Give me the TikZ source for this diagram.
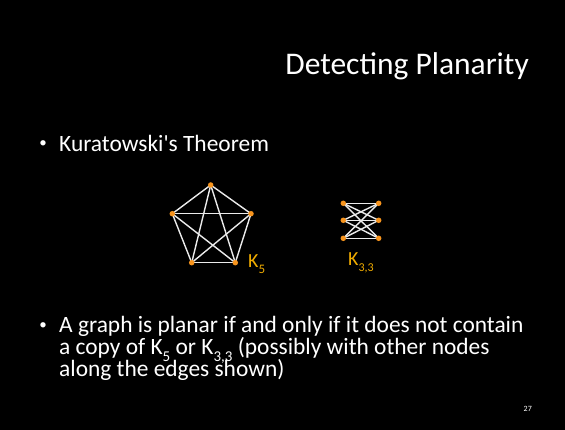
\documentclass[tikz,border=0pt]{standalone}
\usepackage{fontspec}
\setmainfont{Carlito}
\definecolor{dotor}{RGB}{247,148,29}
\definecolor{labor}{RGB}{240,172,0}
\definecolor{edgew}{RGB}{235,235,235}
\newcommand{\subsc}[2]{\raisebox{-0.28em}{\fontsize{#2}{#2}\selectfont #1}}
\begin{document}
\begin{tikzpicture}[x=1pt,y=-1pt,
  vdot/.style={circle,fill=dotor,inner sep=0pt,minimum size=5.5pt},
  gedge/.style={draw=edgew,line width=1.4pt},
  bodytxt/.style={text=white,font=\fontsize{23.4}{26}\selectfont,inner sep=0pt,anchor=base west},
  bulletmark/.style={text=white,font=\fontsize{15}{16}\selectfont,inner sep=0pt,anchor=center},
  klab/.style={text=labor,font=\fontsize{20}{24}\selectfont,inner sep=0pt,anchor=base west}]
\fill[black] (0,0) rectangle (565,430);
\useasboundingbox (0,0) rectangle (565,430);
% title
\node[text=white,font=\fontsize{31.5}{36}\selectfont,inner sep=0pt,anchor=base east] (title) at (529,74.5) {Detecting Planarity};
% bullet 1
\node[bulletmark] (b1) at (43,144.5) {•};
\node[bodytxt] (t1) at (59,151.5) {Kuratowski\textquotesingle s Theorem};
% K5
\coordinate (k1) at (210.7,185);
\coordinate (k2) at (251,213.7);
\coordinate (k3) at (235.3,262.7);
\coordinate (k4) at (191.7,262.7);
\coordinate (k5) at (172.3,213.7);
\foreach \a/\b in {k1/k2,k1/k3,k1/k4,k1/k5,k2/k3,k2/k4,k2/k5,k3/k4,k3/k5,k4/k5}
  \draw[gedge] (\a) -- (\b);
\foreach \v in {k1,k2,k3,k4,k5}
  \node[vdot] (d\v) at (\v) {};
\node[klab] (lk5) at (248,268) {K\subsc{5}{13}};
% K33
\coordinate (a1) at (343.3,203.3);
\coordinate (a2) at (343.3,220.3);
\coordinate (a3) at (343.3,238.3);
\coordinate (c1) at (378.7,203.3);
\coordinate (c2) at (378.7,220.3);
\coordinate (c3) at (378.7,238.3);
\foreach \a in {a1,a2,a3}
  \foreach \b in {c1,c2,c3}
    \draw[gedge] (\a) -- (\b);
\foreach \v in {a1,a2,a3,c1,c2,c3}
  \node[vdot] (d\v) at (\v) {};
\node[klab] (lk33) at (348,266) {K\subsc{3,3}{12}};
% bullet 2
\node[bulletmark] (b2) at (43,326) {•};
\node[bodytxt] (t2a) at (59,333) {A graph is planar if and only if it does not contain};
\node[bodytxt] (t2b) at (59,354.5) {a copy of K\subsc{5}{15} or K\subsc{3,3}{15} (possibly with other nodes};
\node[bodytxt] (t2c) at (59,376) {along the edges shown)};
% page number
\node[text=white,font=\fontsize{8}{9}\selectfont,inner sep=0pt,anchor=base east] (pg) at (532,411) {27};
\end{tikzpicture}
\end{document}
